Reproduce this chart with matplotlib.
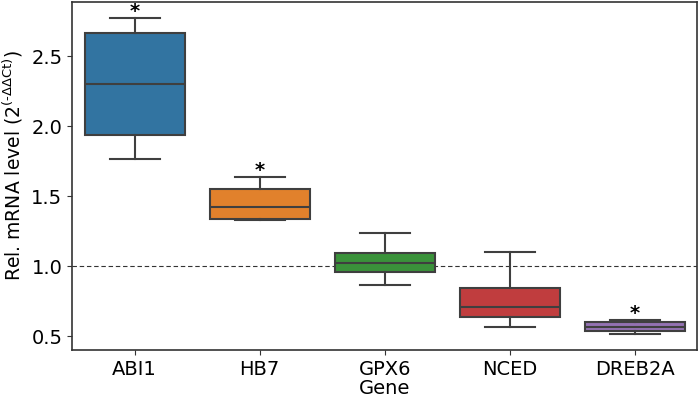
import matplotlib
matplotlib.use("Agg")
import matplotlib.pyplot as plt

genes = ["ABI1", "HB7", "GPX6", "NCED", "DREB2A"]
whislo = [1.764, 1.329, 0.864, 0.564, 0.514]
q1 = [1.936, 1.336, 0.957, 0.636, 0.536]
med = [2.300, 1.420, 1.020, 0.707, 0.564]
q3 = [2.664, 1.550, 1.093, 0.843, 0.600]
whishi = [2.771, 1.636, 1.236, 1.100, 0.614]
significant = [True, True, False, False, True]
colors = ["#3274a1", "#e1812c", "#3a923a", "#c03d3e", "#9372b2"]

fig = plt.figure(figsize=(7, 3.97), dpi=100)
ax = fig.add_axes([0.103, 0.118, 0.893, 0.877])

stats = []
for i, g in enumerate(genes):
    stats.append(dict(label=g, whislo=whislo[i], q1=q1[i], med=med[i],
                      q3=q3[i], whishi=whishi[i], fliers=[]))

lc = "#3f3f3f"
bp = ax.bxp(stats, positions=range(len(genes)), widths=0.8, patch_artist=True,
            showfliers=False,
            boxprops=dict(edgecolor=lc, linewidth=1.5),
            medianprops=dict(color=lc, linewidth=1.5),
            whiskerprops=dict(color=lc, linewidth=1.5),
            capprops=dict(color=lc, linewidth=1.5))
for patch, c in zip(bp["boxes"], colors):
    patch.set_facecolor(c)

ax.axhline(1.0, color="#333333", linestyle="--", linewidth=0.8, dashes=(4, 2.5), zorder=0)

for i, s in enumerate(significant):
    if s:
        ax.text(i, whishi[i] + 0.045, "*", ha="center", va="center",
                fontsize=14, fontweight="bold")

ax.set_xlim(-0.5, 4.5)
ax.set_ylim(0.4, 2.886)
ax.set_yticks([0.5, 1.0, 1.5, 2.0, 2.5])
ax.set_xticks(range(len(genes)))
ax.set_xticklabels(genes)
ax.tick_params(labelsize=14, color="#333333")
ax.set_xlabel("Gene", fontsize=14, labelpad=0)
ax.set_ylabel(r"Rel. mRNA level (2$^{\text{(-ΔΔCt)}}$)", fontsize=13.5)
ax.yaxis.set_label_coords(-0.075, 0.53)
for sp in ax.spines.values():
    sp.set_color("#333333")
    sp.set_linewidth(1.2)

fig.savefig("out.png", dpi=100)
